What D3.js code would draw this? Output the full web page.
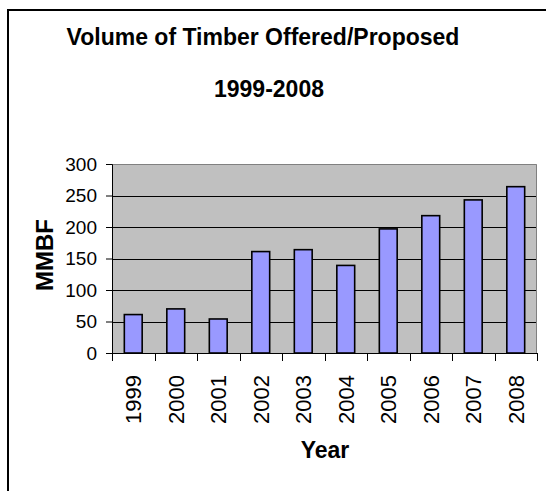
<!DOCTYPE html>
<html>
<head>
<meta charset="utf-8">
<script src="https://cdn.jsdelivr.net/npm/d3@7"></script>
<style>
  html, body { margin: 0; padding: 0; background: #fff; }
  svg { display: block; }
  text { font-family: "Liberation Sans", Arial, sans-serif; fill: #000; }
</style>
</head>
<body>
<script>
// Timber volume offered/proposed per year, in MMBF
const years = ["1999", "2000", "2001", "2002", "2003", "2004", "2005", "2006", "2007", "2008"];
const volumes = [61, 70, 54, 161, 164, 139, 197, 218, 243, 264];
const yTicks = [0, 50, 100, 150, 200, 250, 300];
const titleLines = ["Volume of Timber Offered/Proposed", "1999-2008"];

const W = 546, H = 491;
const plot = { left: 112, right: 537, top: 164, bottom: 353 };

const svg = d3.select("body").append("svg")
  .attr("width", W).attr("height", H);

// chart frame (its right and bottom edges run off the page)
svg.append("rect")
  .attr("x", 8).attr("y", 10)
  .attr("width", 700).attr("height", 700)
  .attr("fill", "#fff").attr("stroke", "#000").attr("stroke-width", 2);

// title
svg.append("text").attr("x", 263).attr("y", 45)
  .attr("text-anchor", "middle").attr("font-size", 23).attr("font-weight", "bold")
  .text(titleLines[0]);
svg.append("text").attr("x", 269).attr("y", 96.5)
  .attr("text-anchor", "middle").attr("font-size", 23).attr("font-weight", "bold")
  .text(titleLines[1]);

const x = d3.scaleBand().domain(years).range([plot.left, plot.right]).paddingInner(0).paddingOuter(0);
const y = d3.scaleLinear().domain([0, 300]).range([plot.bottom, plot.top]);

// plot background
svg.append("rect")
  .attr("x", plot.left).attr("y", plot.top)
  .attr("width", plot.right - plot.left).attr("height", plot.bottom - plot.top)
  .attr("fill", "#c0c0c0");

// gridlines
svg.append("g").selectAll("line")
  .data(yTicks.filter(d => d > 0 && d < 300))
  .join("line")
  .attr("x1", plot.left).attr("x2", plot.right)
  .attr("y1", d => Math.round(y(d)) + 0.5).attr("y2", d => Math.round(y(d)) + 0.5)
  .attr("stroke", "#000").attr("stroke-width", 1);

// plot border top/right
svg.append("path")
  .attr("d", `M${plot.left},${plot.top + 0.5}H${plot.right - 0.5}V${plot.bottom}`)
  .attr("fill", "none").attr("stroke", "#808080").attr("stroke-width", 1);

// bars
const barW = x.bandwidth() * 0.42;
svg.append("g").selectAll("rect")
  .data(years.map((yr, i) => ({ yr, v: volumes[i] })))
  .join("rect")
  .attr("x", d => x(d.yr) + (x.bandwidth() - barW) / 2)
  .attr("y", d => y(d.v))
  .attr("width", barW)
  .attr("height", d => y(0) - y(d.v))
  .attr("fill", "#9999ff")
  .attr("stroke", "#000").attr("stroke-width", 1.6);

// y axis
const yAxis = svg.append("g")
  .attr("transform", `translate(${plot.left},0)`)
  .call(d3.axisLeft(y).tickValues(yTicks).tickSize(6).tickPadding(9));
yAxis.select(".domain").attr("stroke", "#000");
yAxis.selectAll(".tick line").attr("stroke", "#000");
yAxis.selectAll("text")
  .attr("font-size", 19).attr("font-family", "Liberation Sans, Arial, sans-serif")
  .attr("fill", "#000");

// x axis: tick marks on category boundaries
const xAxisG = svg.append("g");
xAxisG.append("line")
  .attr("x1", plot.left).attr("x2", plot.right)
  .attr("y1", plot.bottom + 0.5).attr("y2", plot.bottom + 0.5)
  .attr("stroke", "#000");
const boundaries = years.map(d => x(d)).concat([plot.right]);
xAxisG.selectAll("line.tk")
  .data(boundaries)
  .join("line").attr("class", "tk")
  .attr("x1", d => Math.round(d) + 0.5).attr("x2", d => Math.round(d) + 0.5)
  .attr("y1", plot.bottom).attr("y2", plot.bottom + 8)
  .attr("stroke", "#000");
xAxisG.selectAll("text")
  .data(years)
  .join("text")
  .attr("transform", d => `translate(${x(d) + x.bandwidth() / 2 + 8},375) rotate(-90)`)
  .attr("text-anchor", "end")
  .attr("font-size", 22)
  .text(d => d);

// axis titles
svg.append("text")
  .attr("x", 325).attr("y", 458)
  .attr("text-anchor", "middle").attr("font-size", 23).attr("font-weight", "bold")
  .text("Year");
svg.append("text")
  .attr("transform", "translate(52.5,255) rotate(-90)")
  .attr("text-anchor", "middle").attr("font-size", 24).attr("font-weight", "bold")
  .text("MMBF");
</script>
</body>
</html>
